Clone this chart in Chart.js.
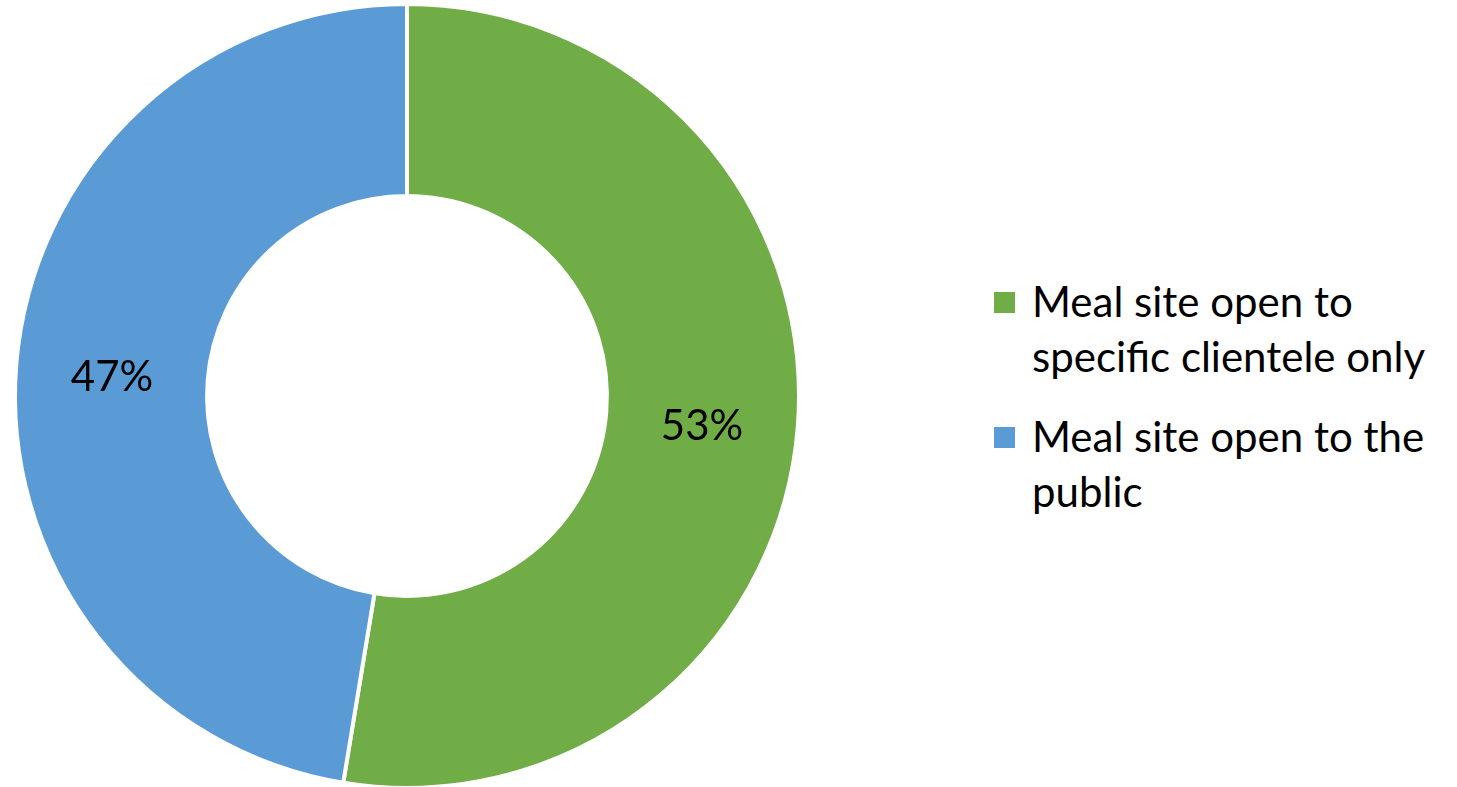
<!DOCTYPE html>
<html>
<head>
<meta charset="utf-8">
<script src="https://cdn.jsdelivr.net/npm/chart.js@4.4.0/dist/chart.umd.min.js"></script>
<style>
  html, body { margin: 0; padding: 0; background: #fff; }
  body { width: 1457px; height: 787px; position: relative; overflow: hidden; font-family: Lato, "Open Sans", sans-serif; }
  #wrap { position: absolute; left: 0; top: 0; width: 815px; height: 795px; }
  #legend { position: absolute; left: 994px; top: 274px; width: 463px; }
  .item { position: relative; padding-left: 38px; font-size: 42px; line-height: 55px; color: #000; margin-bottom: 25px; white-space: nowrap; }
  .item .box { position: absolute; left: 0; top: 18px; width: 21px; height: 21px; }
</style>
</head>
<body>
<div id="wrap"><canvas id="donut" width="815" height="795"></canvas></div>
<div id="legend"></div>
<script>
var categories = ["Meal site open to specific clientele only", "Meal site open to the public"];
var legendLines = [["Meal site open to", "specific clientele only"], ["Meal site open to the", "public"]];
var shares = [52.6, 47.4];
var sliceColors = ["#70AD47", "#5B9BD5"];

// percentage labels in the middle of the ring, like Excel does
var ringLabels = {
    id: "ringLabels",
    afterDatasetsDraw: function(chart) {
        var ctx = chart.ctx;
        var meta = chart.getDatasetMeta(0);
        var total = shares.reduce(function(a, b){ return a + b; }, 0);
        ctx.save();
        ctx.font = "42px Lato, 'Open Sans', sans-serif";
        ctx.fillStyle = "#000";
        ctx.textAlign = "center";
        ctx.textBaseline = "middle";
        meta.data.forEach(function(arc, i){
            var p = arc.tooltipPosition();
            ctx.fillText(Math.round(shares[i] / total * 100) + "%", p.x, p.y + 6);
        });
        ctx.restore();
    }
};

var chart = new Chart(document.getElementById("donut").getContext("2d"), {
    type: "doughnut",
    data: {
        labels: categories,
        datasets: [{
            data: shares,
            backgroundColor: sliceColors,
            borderColor: "#ffffff",
            borderWidth: 4,
            hoverOffset: 0
        }]
    },
    options: {
        responsive: false,
        animation: false,
        cutout: "51%",
        layout: { padding: { left: 13, top: 2, right: 14, bottom: 5 } },
        plugins: {
            legend: { display: false },
            tooltip: { enabled: false }
        }
    },
    plugins: [ringLabels]
});

var legendEl = document.getElementById("legend");
categories.forEach(function(name, i){
    var item = document.createElement("div");
    item.className = "item";
    var box = document.createElement("span");
    box.className = "box";
    box.style.background = sliceColors[i];
    item.appendChild(box);
    legendLines[i].forEach(function(line, j){
        if (j > 0) item.appendChild(document.createElement("br"));
        item.appendChild(document.createTextNode(line));
    });
    legendEl.appendChild(item);
});
</script>
</body>
</html>
